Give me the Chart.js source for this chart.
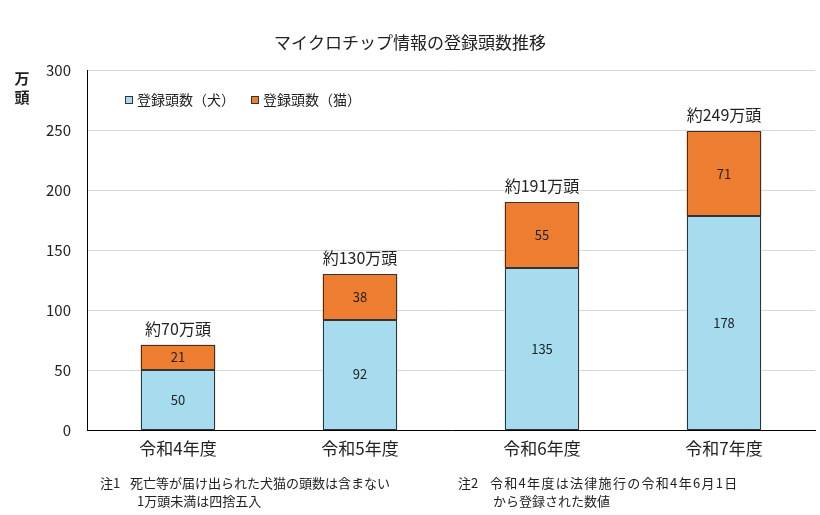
<!DOCTYPE html>
<html><head><meta charset="utf-8">
<script src="https://cdn.jsdelivr.net/npm/chart.js@4/dist/chart.umd.min.js"></script>
<style>html,body{margin:0;padding:0;background:#fff}#wrap{width:820px;height:515px}</style>
</head><body><div id="wrap"><canvas id="c" width="820" height="515"></canvas></div>
<script>
const categories = ['令和4年度','令和5年度','令和6年度','令和7年度'];
const dogValues = [50, 92, 135, 178];
const catValues = [21, 38, 55, 71];
const totalLabels = ['約70万頭','約130万頭','約191万頭','約249万頭'];
const seriesNames = ['登録頭数（犬）','登録頭数（猫）'];
const yTicks = [0,50,100,150,200,250,300];
const titleText = 'マイクロチップ情報の登録頭数推移';
const note1 = ['注1', '死亡等が届け出られた犬猫の頭数は含まない', '1万頭未満は四捨五入'];
const note2 = ['注2', '令和4年度は法律施行の令和4年6月1日', 'から登録された数値'];

const FONT = '"Noto Sans CJK JP", "Noto Sans", sans-serif';
const dogColor = '#a6dcee';
const catColor = '#ed7d31';
const edgeColor = '#333';

const extras = {
  id: 'extras',
  afterDatasetsDraw(chart) {
    const ctx = chart.ctx;
    ctx.save();
    // crisp outlines
    ctx.strokeStyle = edgeColor;
    ctx.lineWidth = 1;
    chart.data.datasets.forEach((ds, di) => {
      chart.getDatasetMeta(di).data.forEach((bar) => {
        const l = Math.round(bar.x - bar.width / 2) + 0.5;
        const r = Math.round(bar.x + bar.width / 2) - 0.5;
        const t = Math.round(Math.min(bar.y, bar.base)) + 0.5;
        const b = Math.round(Math.max(bar.y, bar.base)) - 0.5;
        ctx.strokeRect(l, t, r - l, b - t);
      });
    });
    ctx.textAlign = 'center';
    ctx.textBaseline = 'middle';
    ctx.fillStyle = '#222';
    ctx.font = '13px ' + FONT;
    chart.data.datasets.forEach((ds, di) => {
      chart.getDatasetMeta(di).data.forEach((bar, i) => {
        const y = (bar.y + bar.base) / 2;
        ctx.fillText(String(ds.data[i]), bar.x, y);
      });
    });
    const top = chart.getDatasetMeta(1).data;
    ctx.font = '16px ' + FONT;
    top.forEach((bar, i) => ctx.fillText(totalLabels[i], bar.x, bar.y - 16));
    ctx.restore();
  },
  afterDraw(chart) {
    const ctx = chart.ctx;
    ctx.save();
    ctx.fillStyle = '#222';
    ctx.textBaseline = 'middle';
    ctx.textAlign = 'center';
    ctx.font = '17px ' + FONT;
    ctx.fillText(titleText, 410, 43);
    ctx.font = 'bold 15px ' + FONT;
    ctx.fillText('万', 22, 78);
    ctx.fillText('頭', 22, 97);
    // legend
    ctx.textAlign = 'left';
    ctx.font = '14px ' + FONT;
    let x = 125;
    const ly = 100;
    chart.data.datasets.forEach((ds) => {
      ctx.fillStyle = ds.backgroundColor;
      ctx.fillRect(x, ly - 4, 8, 8);
      ctx.strokeStyle = '#333';
      ctx.lineWidth = 1;
      ctx.strokeRect(x + 0.5, ly - 3.5, 7, 7);
      ctx.fillStyle = '#222';
      ctx.fillText(ds.label, x + 12, ly);
      x += 12 + ctx.measureText(ds.label).width + 16;
    });
    // notes
    ctx.font = '13px ' + FONT;
    ctx.fillText(note1[0], 100, 483);
    ctx.fillText(note1[1], 130, 483);
    ctx.fillText(note1[2], 137, 501);
    ctx.fillText(note2[0], 458, 483);
    ctx.letterSpacing = '1.3px';
    ctx.fillText(note2[1], 490, 483);
    ctx.letterSpacing = '0px';
    ctx.fillText(note2[2], 493, 501);
    ctx.restore();
  }
};

new Chart(document.getElementById('c'), {
  type: 'bar',
  data: {
    labels: categories,
    datasets: [
      { label: seriesNames[0], data: dogValues, backgroundColor: dogColor, borderWidth: 0, inflateAmount: 0, barPercentage: 0.82, categoryPercentage: 0.5 },
      { label: seriesNames[1], data: catValues, backgroundColor: catColor, borderWidth: 0, inflateAmount: 0, barPercentage: 0.82, categoryPercentage: 0.5 }
    ]
  },
  options: {
    responsive: false,
    animation: false,
    layout: { padding: { left: 0, right: 5, top: 70, bottom: 55 } },
    plugins: { legend: { display: false }, tooltip: { enabled: false }, title: { display: false } },
    scales: {
      x: {
        stacked: true,
        grid: { display: false, drawTicks: false },
        border: { color: '#000', width: 1 },
        ticks: { color: '#222', font: { family: FONT, size: 17 }, padding: 8 },
        afterFit(s) { s.height = 30; }
      },
      y: {
        stacked: true,
        min: 0, max: 300,
        afterBuildTicks(s) { s.ticks = yTicks.map(v => ({ value: v })); },
        grid: { color: '#d9d9d9', drawTicks: false },
        border: { color: '#000', width: 1 },
        ticks: { color: '#222', font: { family: FONT, size: 15 }, padding: 16 },
        afterFit(s) { s.width = 87; }
      }
    }
  },
  plugins: [extras]
});
</script></body></html>
